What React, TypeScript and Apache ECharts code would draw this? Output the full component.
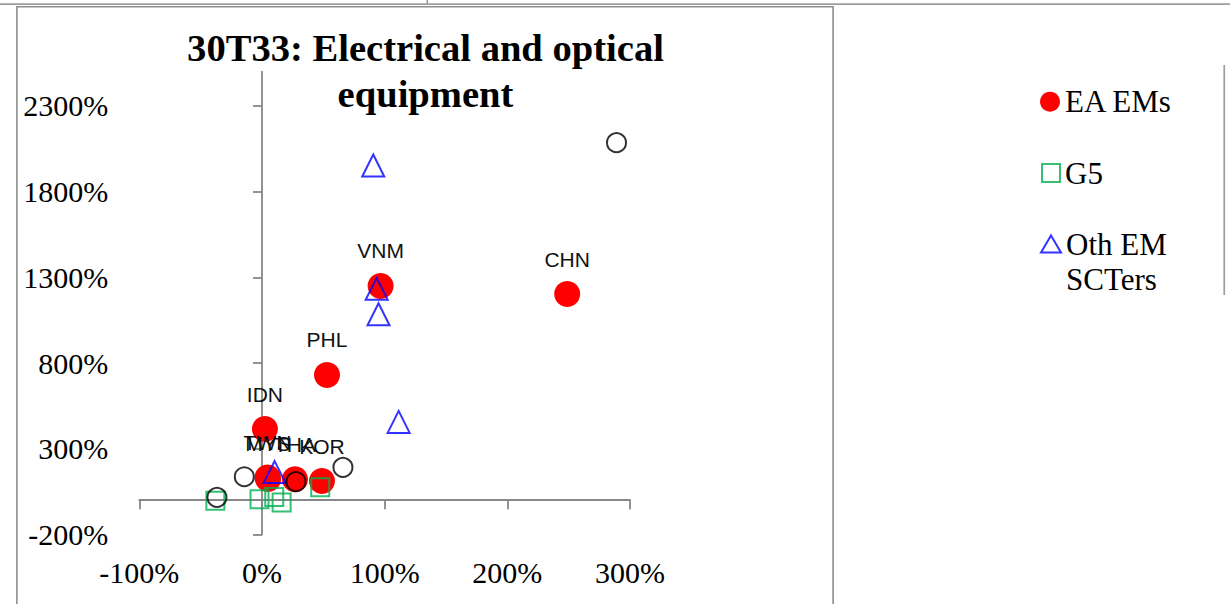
import { useEffect, useRef } from 'react';
import * as echarts from 'echarts';

// East Asian emerging markets (labelled red dots)
const eaCountries = ['CHN', 'IDN', 'KOR', 'MYS', 'PHL', 'THA', 'TWN', 'VNM'];
const eaX = [248.8, 2.4, 48.9, 5.0, 53.0, 26.9, 4.5, 96.7];
const eaY = [1203, 415, 112, 124, 731, 122, 132, 1250];

// G5 economies
const g5X = [-38, -2, 10, 16, 47.5];
const g5Y = [-3, 5, 19, -14, 76];

// Other emerging-market exporters
const othX = [90.7, 93.5, 95, 111.4, 10.3];
const othY = [1953, 1233, 1085, 457, 164];

// Remaining economies (no legend entry)
const restX = [-36.7, -14.4, 27.7, 66, 289];
const restY = [17, 137, 108, 192, 2086];

const xTicks = [-100, 0, 100, 200, 300];
const yTicks = [-200, 300, 800, 1300, 1800, 2300];
const xMin = -100;
const xMax = 300;
const yMin = -200;
const yMax = 2500;

const SERIF = '"Liberation Serif", "Times New Roman", serif';
const SANS = '"Liberation Sans", Arial, sans-serif';
const AXIS_GRAY = '#878787';

const pairs = (xs: number[], ys: number[]) => xs.map((x, i) => [x, ys[i]]);
const pct = (v: number) => `${v}%`;

export default function App() {
  const ref = useRef<HTMLDivElement>(null);

  useEffect(() => {
    if (!ref.current) return;
    const chart = echarts.init(ref.current, null, { renderer: 'svg' });

    const legendText = {
      fontFamily: SERIF,
      fontSize: 31,
      lineHeight: 35,
      color: '#000',
    };

    chart.setOption({
      animation: false,
      backgroundColor: '#fff',
      title: {
        text: '30T33: Electrical and optical\nequipment',
        left: 425.5,
        top: 25,
        padding: 0,
        textAlign: 'center',
        textVerticalAlign: 'top',
        textStyle: {
          fontFamily: SERIF,
          fontWeight: 'bold',
          fontSize: 38.6,
          lineHeight: 46,
          color: '#000',
        },
      },
      graphic: [
        { type: 'rect', silent: true, z: -10, shape: { x: 0, y: 3.3, width: 1230, height: 1.6 }, style: { fill: '#9c9c9c' } },
        { type: 'rect', silent: true, z: -10, shape: { x: 426.5, y: 0, width: 1.6, height: 5 }, style: { fill: '#9c9c9c' } },
        {
          type: 'rect',
          silent: true,
          z: -10,
          shape: { x: 16.9, y: 6.7, width: 816.2, height: 640 },
          style: { fill: 'none', stroke: '#8e8e8e', lineWidth: 1.6 },
        },
        { type: 'rect', silent: true, z: -10, shape: { x: 1223.4, y: 65, width: 1.7, height: 230 }, style: { fill: '#9c9c9c' } },
      ],
      legend: [
        {
          data: ['EA EMs'],
          left: 1040,
          top: 84.2,
          padding: 0,
          selectedMode: false,
          icon: 'circle',
          itemWidth: 20,
          itemHeight: 20,
          itemStyle: { color: '#ff0000', borderWidth: 0 },
          textStyle: legendText,
        },
        {
          data: ['G5'],
          left: 1041,
          top: 155.5,
          padding: 0,
          selectedMode: false,
          icon: 'rect',
          itemWidth: 18,
          itemHeight: 18,
          itemStyle: { color: 'transparent', borderColor: '#00b050', borderWidth: 2 },
          textStyle: legendText,
        },
        {
          // an empty leading line keeps the marker level with "Oth EM"
          data: ['Oth EM SCTers'],
          left: 1040,
          top: 191.5,
          padding: 0,
          selectedMode: false,
          icon: 'triangle',
          itemWidth: 20,
          itemHeight: 17,
          itemStyle: { color: 'transparent', borderColor: '#0000ff', borderWidth: 2 },
          formatter: () => '\nOth EM\nSCTers',
          textStyle: legendText,
        },
      ],
      grid: { left: 139.3, right: 600, top: 71.7, bottom: 69.5, containLabel: false },
      xAxis: [
        {
          type: 'value',
          min: xMin,
          max: xMax,
          interval: 100,
          axisLine: { show: true, onZero: true, lineStyle: { color: AXIS_GRAY, width: 1.8 } },
          axisTick: { show: true, length: 9, lineStyle: { color: AXIS_GRAY, width: 1.8 } },
          axisLabel: { show: false },
          splitLine: { show: false },
        },
        {
          type: 'value',
          position: 'bottom',
          min: xMin,
          max: xMax,
          interval: 100,
          axisLine: { show: false, onZero: false },
          axisTick: { show: false },
          axisLabel: {
            show: true,
            margin: 22.5,
            fontFamily: SERIF,
            fontSize: 30,
            lineHeight: 30,
            color: '#000',
            customValues: xTicks,
            formatter: pct,
          },
          splitLine: { show: false },
        },
      ],
      yAxis: [
        {
          type: 'value',
          min: yMin,
          max: yMax,
          axisLine: { show: true, onZero: true, lineStyle: { color: AXIS_GRAY, width: 1.8 } },
          axisTick: { show: true, length: 9, customValues: yTicks, lineStyle: { color: AXIS_GRAY, width: 1.8 } },
          axisLabel: { show: false },
          splitLine: { show: false },
        },
        {
          type: 'value',
          position: 'left',
          min: yMin,
          max: yMax,
          axisLine: { show: false, onZero: false },
          axisTick: { show: false },
          axisLabel: {
            show: true,
            margin: 31,
            fontFamily: SERIF,
            fontSize: 30,
            lineHeight: 30,
            color: '#000',
            customValues: yTicks,
            formatter: pct,
          },
          splitLine: { show: false },
        },
      ],
      series: [
        {
          name: 'EA EMs',
          type: 'scatter',
          symbol: 'circle',
          symbolSize: 26,
          itemStyle: { color: '#ff0000', opacity: 1 },
          label: {
            show: true,
            position: 'inside',
            offset: [0, -35],
            formatter: (p: any) => p.name,
            fontFamily: SANS,
            fontSize: 21,
            color: '#111',
            textBorderWidth: 0,
          },
          data: eaCountries.map((name, i) => ({ name, value: [eaX[i], eaY[i]] })),
        },
        {
          name: 'G5',
          type: 'scatter',
          symbol: 'rect',
          symbolSize: 18,
          itemStyle: { color: 'transparent', borderColor: '#00b050', borderWidth: 2 },
          data: pairs(g5X, g5Y),
        },
        {
          name: 'Oth EM SCTers',
          type: 'scatter',
          symbol: 'triangle',
          symbolSize: 22,
          itemStyle: { color: 'transparent', borderColor: '#0000ff', borderWidth: 2 },
          data: pairs(othX, othY),
        },
        {
          name: 'Others',
          type: 'scatter',
          symbol: 'circle',
          symbolSize: 19,
          itemStyle: { color: 'transparent', borderColor: '#000', borderWidth: 2 },
          data: pairs(restX, restY),
        },
      ],
    });

    return () => chart.dispose();
  }, []);

  return (
    <div
      ref={ref}
      style={{ position: 'fixed', left: 0, top: 0, width: 1230, height: 604, background: '#fff' }}
    />
  );
}
